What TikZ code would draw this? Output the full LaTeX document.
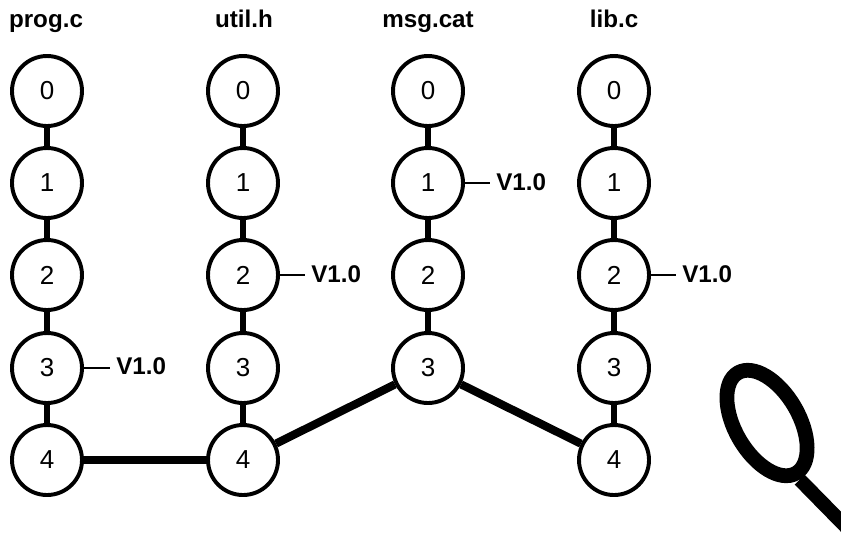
\documentclass[tikz,border=0pt]{standalone}
\usepackage{fontspec}
\setmainfont{Liberation Sans}
\usetikzlibrary{shapes}
\tikzset{
	rev/.style={circle,draw,line width=2.8pt,minimum size=1.75cm,inner sep=0pt,font=\fontsize{18.5}{22}\selectfont},
	filename/.style={anchor=base,inner sep=0pt,font=\fontsize{17.2}{20}\selectfont\bfseries},
	taglabel/.style={anchor=west,inner sep=0pt,font=\fontsize{17.2}{20}\selectfont\bfseries},
	history/.style={line width=3.8pt},
	merged/.style={line width=5.8pt},
	tagline/.style={line width=1.4pt},
}
\begin{document}
\begin{tikzpicture}[scale=1]
	\useasboundingbox (0,0) rectangle (21.025,-13.35);

	\node[filename] (progname) at (1.15,-0.675) {prog.c};
	\node[filename] (utilname) at (6.1,-0.675) {util.h};
	\node[filename] (msgname) at (10.7,-0.675) {msg.cat};
	\node[filename] (libname) at (15.35,-0.675) {lib.c};

	\node[rev] (prog0) at (1.175,-2.275) {0};
	\node[rev] (prog1) at (1.175,-4.575) {1};
	\node[rev] (prog2) at (1.175,-6.875) {2};
	\node[rev] (prog3) at (1.175,-9.2) {3};
	\node[rev] (prog4) at (1.175,-11.5) {4};

	\node[rev] (util0) at (6.075,-2.275) {0};
	\node[rev] (util1) at (6.075,-4.575) {1};
	\node[rev] (util2) at (6.075,-6.875) {2};
	\node[rev] (util3) at (6.075,-9.2) {3};
	\node[rev] (util4) at (6.075,-11.5) {4};

	\node[rev] (msg0) at (10.7,-2.275) {0};
	\node[rev] (msg1) at (10.7,-4.575) {1};
	\node[rev] (msg2) at (10.7,-6.875) {2};
	\node[rev] (msg3) at (10.7,-9.2) {3};

	\node[rev] (lib0) at (15.35,-2.275) {0};
	\node[rev] (lib1) at (15.35,-4.575) {1};
	\node[rev] (lib2) at (15.35,-6.875) {2};
	\node[rev] (lib3) at (15.35,-9.2) {3};
	\node[rev] (lib4) at (15.35,-11.5) {4};

	\node[taglabel] (progtag) at (2.9,-9.15) {V1.0};
	\node[taglabel] (utiltag) at (7.775,-6.85) {V1.0};
	\node[taglabel] (msgtag) at (12.4,-4.55) {V1.0};
	\node[taglabel] (libtag) at (17.05,-6.85) {V1.0};

	\path[history] (prog0) edge (prog1) (prog1) edge (prog2) (prog2) edge (prog3) (prog3) edge (prog4);
	\path[history] (util0) edge (util1) (util1) edge (util2) (util2) edge (util3) (util3) edge (util4);
	\path[history] (msg0) edge (msg1) (msg1) edge (msg2) (msg2) edge (msg3);
	\path[history] (lib0) edge (lib1) (lib1) edge (lib2) (lib2) edge (lib3) (lib3) edge (lib4);

	\path[merged] (prog4) edge (util4);
	\path[merged] (util4) edge (msg3);
	\path[merged] (msg3) edge (lib4);

	\draw[tagline] (prog3.east) -- ([xshift=-0.15cm]progtag.west |- prog3.east);
	\draw[tagline] (util2.east) -- ([xshift=-0.15cm]utiltag.west |- util2.east);
	\draw[tagline] (msg1.east) -- ([xshift=-0.15cm]msgtag.west |- msg1.east);
	\draw[tagline] (lib2.east) -- ([xshift=-0.15cm]libtag.west |- lib2.east);

	\node[ellipse,draw,line width=10.5pt,rotate=-60,minimum width=2.9cm,minimum height=1.6cm,inner sep=0pt] (lens) at (19.175,-10.575) {};
	\coordinate (handleend) at (21.375,-13.4);
	\draw[line width=10pt] (lens.east) -- (handleend);
\end{tikzpicture}
\end{document}
